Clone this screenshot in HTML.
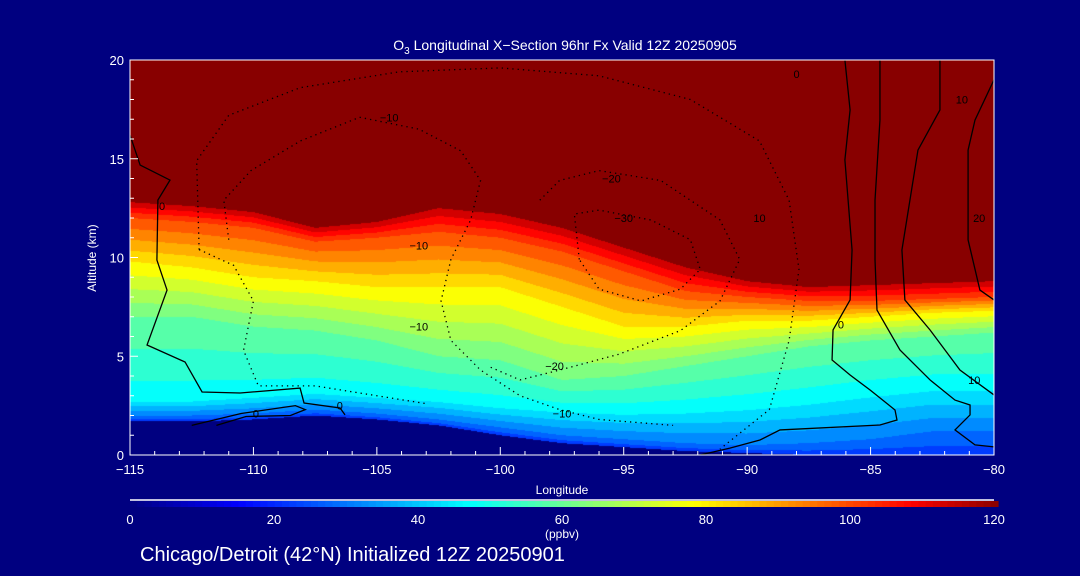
<!DOCTYPE html>
<html><head><meta charset="utf-8"><style>
html,body{margin:0;padding:0;background:#000080;}
#wrap{position:relative;width:1080px;height:576px;background:#000080;overflow:hidden;font-family:"Liberation Sans",sans-serif;color:#fff;}
canvas{position:absolute;left:130px;top:60px;}
svg{position:absolute;left:0;top:0;}
</style></head><body>
<div id="wrap">
<canvas id="cv" width="864" height="395"></canvas>
<svg id="sv" width="1080" height="576"></svg>
</div>
<script>
// Longitude columns and key-level altitudes (km) per column
const lons = [-115,-112.5,-110,-107.5,-105,-102.5,-100,-97.5,-95,-92.5,-90,-87.5,-85,-82.5,-80];
const surfaceAlt = [1.7,1.7,1.8,2.0,1.8,1.5,1.0,0.6,0.4,0.2,0.1,0,0,0,0];
const alt30 = [2.0,2.0,2.1,2.3,2.1,1.8,1.4,1.0,0.8,0.6,0.5,0.6,0.8,1.2,1.2];
const alt47 = [2.8,2.8,3.0,3.2,3.0,2.8,2.5,2.3,2.2,2.3,2.5,2.8,3.2,3.5,3.5];
const alt60 = [7.0,7.0,6.5,6.3,5.8,5.0,4.8,3.8,4.0,4.5,5.0,5.5,5.8,6.0,6.2];
const alt80 = [9.8,9.5,9.0,8.8,8.5,8.5,8.5,7.5,6.5,6.5,6.8,6.8,7.0,7.2,7.3];
const alt100 = [12.0,11.8,11.5,10.8,11.0,11.3,11.0,10.3,9.3,8.3,8.0,7.8,7.8,7.9,8.0];
const alt115 = [12.8,12.6,12.3,11.5,11.8,12.5,12.2,11.5,10.5,9.5,8.8,8.5,8.6,8.7,8.8];
const levelVals = [22,30,47,60,80,100,115];
const colorbarTicks = [0,20,40,60,80,100,120];
const xTicks = [-115,-110,-105,-100,-95,-90,-85,-80];
const yTicks = [0,5,10,15,20];
// contour lines [lon,alt]
const contourSolid = [
 [[-86.04,20],[-85.83,17.47],[-86.04,14.94],[-85.75,10.38],[-85.83,7.85],[-86.52,6.33],[-86.56,4.81],[-85.83,4.05],[-85.02,3.29],[-84.01,2.28],[-83.93,1.77],[-84.62,1.52],[-88.67,1.27],[-89.48,0.76],[-90.7,0.35],[-91.91,0]],
 [[-84.62,20],[-84.62,16.96],[-84.82,12.91],[-84.82,9.87],[-84.74,7.34],[-83.81,5.32],[-82.59,3.8],[-81.58,2.78],[-80.97,2.53],[-80.97,2.03],[-81.58,1.27],[-80.77,0.51],[-80,0.41]],
 [[-82.19,20],[-82.19,17.47],[-83.08,15.44],[-83.73,10.38],[-83.61,7.85],[-82.59,6.33],[-81.38,4.3],[-80,3.04]],
 [[-80,19],[-80.77,16.96],[-81.05,15.44],[-81.05,10.89],[-80.57,8.35],[-80,7.85]],
 [[-115,16.2],[-114.59,14.68],[-113.38,13.92],[-113.87,12.91],[-113.91,9.87],[-113.5,8.35],[-114.31,5.57],[-112.77,4.71],[-112.08,3.19],[-110.54,3.14],[-108.11,3.39],[-107.95,2.63],[-106.49,2.38],[-106.29,2.03]],
 [[-112.5,1.5],[-110.5,2.1],[-108.3,2.5],[-107.9,2.3],[-108.5,2.0],[-110.3,1.95],[-111.5,1.5]]
];
const contourDotted = [
 [[-112.2,10.4],[-112.3,14.9],[-111,17.2],[-108.1,18.6],[-104.1,19.4],[-100,19.6],[-96,19.2],[-92.3,18],[-89.5,15.9],[-88.3,12.9],[-87.9,9.4],[-88.3,5.8],[-89.1,2.3],[-91.1,0.3]],
 [[-111,10.9],[-111.2,12.9],[-110.1,14.4],[-108.1,15.9],[-105.7,17.1],[-103.3,16.5],[-101.6,15.4],[-100.8,13.9],[-101.2,11.9],[-102,9.9],[-102.4,7.8],[-102,5.8],[-100.8,4.3],[-99.2,3],[-97.6,2.3],[-96,1.8],[-93,1.5]],
 [[-112.2,10.4],[-110.8,9.6],[-110,7.8],[-110.4,5.3],[-109.8,3.5],[-107.5,3.5],[-105,3.0],[-103,2.6]],
 [[-98.4,12.9],[-97.6,13.9],[-96,14.4],[-93.5,13.9],[-91.1,11.9],[-90.3,9.9],[-91.1,7.8],[-92.7,6.3],[-95.2,5.1],[-97.6,4.3],[-99.2,3.8],[-100.5,4.5]],
 [[-96.8,9.9],[-97,12.2],[-96,12.4],[-93.9,11.9],[-92.3,10.9],[-91.9,9.4],[-92.7,8.4],[-94.3,7.8],[-96,8.4],[-96.8,9.9]]
];
const contourLabels = [["−10",-104.5,17.1],["−10",-103.3,10.6],["−10",-103.3,6.5],["−20",-95.5,14],["−30",-95,12],["−20",-97.8,4.5],["−10",-97.5,2.1],["10",-89.5,12],["0",-113.7,12.6],["0",-109.9,2.1],["0",-106.5,2.5],["0",-86.2,6.6],["0",-88,19.3],["10",-80.8,3.8],["10",-81.3,18],["20",-80.6,12]];

const PX=130, PY=60, PW=864, PH=395;
const xs = lon => PX + (lon+115)/35*PW;
const ys = a => PY + PH - a/20*PH;

function jet(v){
  const stops=[[0,[0,0,128]],[15,[0,0,255]],[47,[0,255,255]],[78,[255,255,0]],[108,[255,0,0]],[120,[136,0,0]]];
  v=Math.max(0,Math.min(120,v));
  for(let i=0;i<stops.length-1;i++){
    const [a,ca]=stops[i],[b,cb]=stops[i+1];
    if(v<=b){const t=(v-a)/(b-a);return ca.map((c,k)=>Math.round(c+(cb[k]-c)*t));}
  }
  return [136,0,0];
}
function colInterp(arr,lon){
  let f=(lon-lons[0])/(lons[1]-lons[0]);let j=Math.min(lons.length-2,Math.max(0,Math.floor(f)));let t=f-j;
  return arr[j]*(1-t)+arr[j+1]*t;
}
(function(){
  const cv=document.getElementById('cv'),ctx=cv.getContext('2d');
  const img=ctx.createImageData(PW,PH);
  for(let x=0;x<PW;x++){
    const lon=-115+(x+0.5)/PW*35;
    const S=colInterp(surfaceAlt,lon);
    const hs=[S,colInterp(alt30,lon),colInterp(alt47,lon),colInterp(alt60,lon),colInterp(alt80,lon),colInterp(alt100,lon),colInterp(alt115,lon)];
    for(let y=0;y<PH;y++){
      const a=(PH-y-0.5)/PH*20;let c;
      if(a<S){c=[0,0,128];}
      else{
        let v;
        if(a>=hs[6]){v=Math.min(120,115+(a-hs[6])*10);}
        else{for(let k=0;k<6;k++){if(a<hs[k+1]){const t=(a-hs[k])/Math.max(0.01,hs[k+1]-hs[k]);v=levelVals[k]+(levelVals[k+1]-levelVals[k])*t;break;}}}
        v=Math.floor(v/5)*5+2.5;if(v>117)v=120;
        c=jet(v);
      }
      const i=(y*PW+x)*4;img.data[i]=c[0];img.data[i+1]=c[1];img.data[i+2]=c[2];img.data[i+3]=255;
    }
  }
  ctx.putImageData(img,0,0);
})();
(function(){
  const ns='http://www.w3.org/2000/svg',sv=document.getElementById('sv');
  function mk(tag,at,parent){const e=document.createElementNS(ns,tag);for(const k in at)e.setAttribute(k,at[k]);(parent||sv).appendChild(e);return e;}
  const gC=mk('g',{});
  
  
  contourSolid.forEach(c=>{const p=mk('polyline',{points:c.map(q=>xs(q[0])+','+ys(q[1])).join(' '),fill:'none',stroke:'#000','stroke-width':1.3},gC);
    
    });
  contourDotted.forEach(c=>{const p=mk('polyline',{points:c.map(q=>xs(q[0])+','+ys(q[1])).join(' '),fill:'none',stroke:'#000','stroke-width':1.3,'stroke-dasharray':'1.3 4'},gC);
    
    });
  contourLabels.forEach(l=>{const t=mk('text',{x:xs(l[1]),y:ys(l[2])+4,fill:'#000','font-size':11,'text-anchor':'middle'},gC);t.textContent=l[0];
    
    });
  const fr=mk('rect',{x:PX,y:PY,width:PW,height:PH,fill:'none',stroke:'#fff','stroke-width':1});
  
  
  for(let l=-115;l<=-80;l++){const big=l%5===0;mk('line',{x1:xs(l),x2:xs(l),y1:PY+PH,y2:PY+PH-(big?8:4),stroke:'#fff'});}
  xTicks.forEach(l=>{const t=mk('text',{x:xs(l),y:474,fill:'#fff','font-size':13,'text-anchor':'middle'});t.textContent=(l<0?'−':'')+Math.abs(l);
    
    });
  for(let a=0;a<=20;a++){mk('line',{x1:PX,x2:PX+(a%5===0?8:4),y1:ys(a),y2:ys(a),stroke:'#fff'});}
  yTicks.forEach(a=>{const t=mk('text',{x:124,y:ys(a)+5,fill:'#fff','font-size':13,'text-anchor':'end'});t.textContent=a;
    
    });
  const xt=mk('text',{x:562,y:494,fill:'#fff','font-size':12,'text-anchor':'middle'});xt.textContent='Longitude';
  
  
  const yt=mk('text',{x:96,y:258,fill:'#fff','font-size':12,'text-anchor':'middle',transform:'rotate(-90 96 258)'});yt.textContent='Altitude (km)';
  
  
  const ti=mk('text',{x:565,y:50,fill:'#fff','font-size':14,'text-anchor':'middle'});
  ti.innerHTML='O<tspan font-size="10" dy="4">3</tspan><tspan dy="-4"> Longitudinal X−Section 96hr  Fx Valid 12Z 20250905</tspan>';
  
  
  const gB=mk('g',{});
  
  
  mk('line',{x1:130,x2:994,y1:500,y2:500,stroke:'#fff','stroke-width':1.5},gB);
  for(let i=0;i<120;i++){const c=jet(i+0.5);mk('rect',{x:130+i*868/120,y:501,width:868/120+0.6,height:6,fill:'rgb('+c.join(',')+')'},gB);}
  colorbarTicks.forEach(v=>{const t=mk('text',{x:130+v/120*864,y:524,fill:'#fff','font-size':13,'text-anchor':'middle'},gB);t.textContent=v;
    
    });
  const u=mk('text',{x:562,y:538,fill:'#fff','font-size':12,'text-anchor':'middle'});u.textContent='(ppbv)';
  
  
  const ft=mk('text',{x:140,y:561,fill:'#fff','font-size':20});ft.textContent='Chicago/Detroit (42°N) Initialized 12Z 20250901';
  
  
})();
</script>
</body></html>
